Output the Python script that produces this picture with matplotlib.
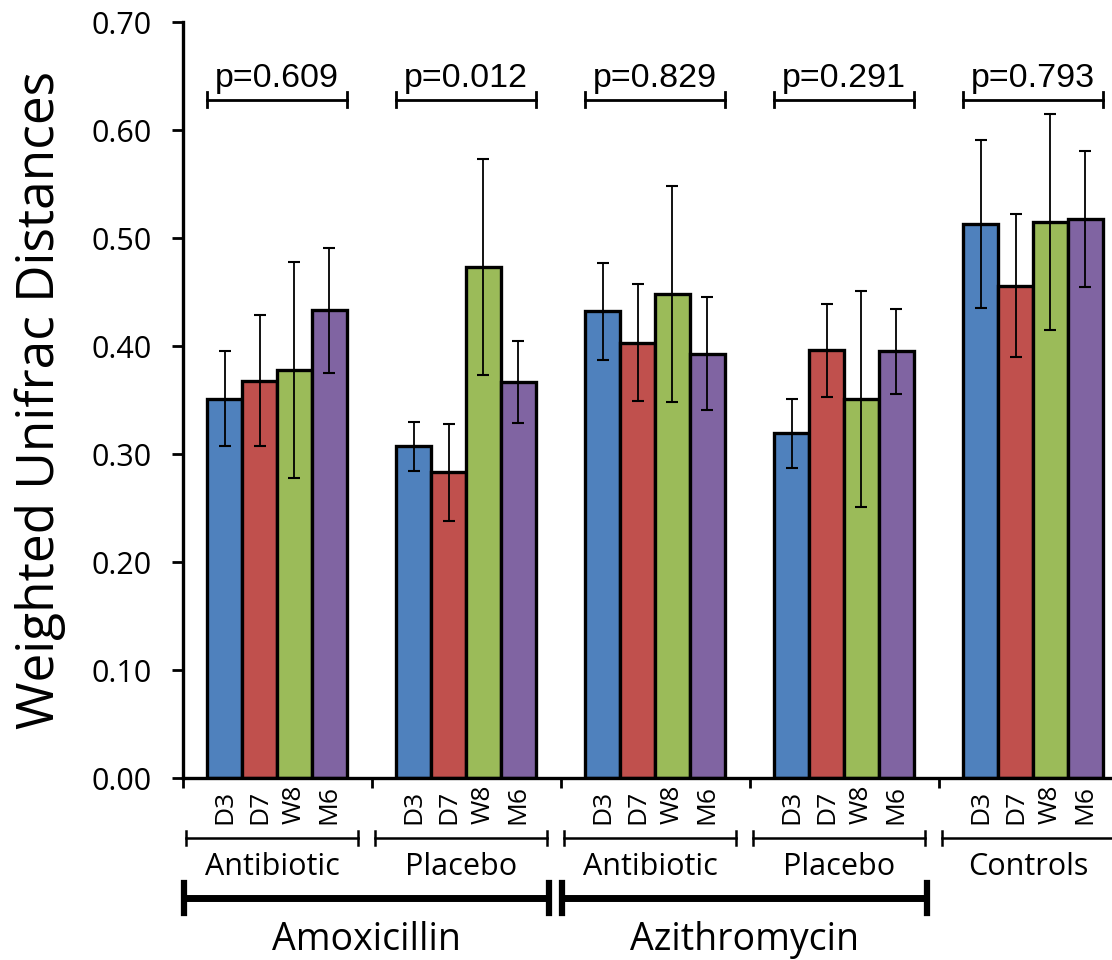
import numpy as np
import matplotlib
matplotlib.use('Agg')
import matplotlib.pyplot as plt
import matplotlib.transforms as mtransforms

# data
groups = ['Antibiotic', 'Placebo', 'Antibiotic', 'Placebo', 'Controls']
timepoints = ['D3', 'D7', 'W8', 'M6']
d3 = [0.351, 0.307, 0.432, 0.319, 0.513]
d7 = [0.368, 0.283, 0.403, 0.396, 0.456]
w8 = [0.378, 0.473, 0.448, 0.351, 0.515]
m6 = [0.433, 0.367, 0.393, 0.395, 0.518]
d3_err = [0.044, 0.023, 0.045, 0.032, 0.078]
d7_err = [0.061, 0.045, 0.054, 0.043, 0.066]
w8_err = [0.100, 0.100, 0.100, 0.100, 0.100]
m6_err = [0.058, 0.038, 0.052, 0.039, 0.063]
pvals = ['0.609', '0.012', '0.829', '0.291', '0.793']
drugs = ['Amoxicillin', 'Azithromycin']
drug_groups = [(0, 1), (2, 3)]

means = [d3, d7, w8, m6]
errs = [d3_err, d7_err, w8_err, m6_err]
colors = ['#4F81BD', '#C0504D', '#9BBB59', '#8064A2']

LABEL_FONT = ['Open Sans', 'DejaVu Sans']
P_FONT = ['Liberation Sans', 'DejaVu Sans']

fig = plt.figure(figsize=(11.12, 9.6), dpi=100)
ax = fig.add_axes([182.5 / 1112, 182 / 960, 945 / 1112, 756 / 960])
tr = mtransforms.blended_transform_factory(ax.transData, ax.transAxes)

x = np.arange(len(groups))
w = 0.184
for i in range(4):
    pos = x + (i - 1.5) * w
    ax.bar(pos, means[i], w, color=colors[i], edgecolor='black', linewidth=2.4, zorder=2)
    ax.errorbar(pos, means[i], yerr=errs[i], fmt='none', ecolor='black',
                elinewidth=1.3, capsize=4.5, capthick=1.5, zorder=3)
    for xp in pos:
        ax.text(xp, -0.061, timepoints[i], rotation=90, ha='center', va='bottom',
                fontsize=19, family=LABEL_FONT, transform=tr)

ax.set_xlim(-0.5, 4.5)
ax.set_ylim(0, 0.70)
ax.set_yticks(np.arange(0, 0.71, 0.1))
ax.set_yticklabels(['%.2f' % v for v in np.arange(0, 0.71, 0.1)], fontsize=22, family=LABEL_FONT)
ax.tick_params(axis='y', length=8, width=2, pad=14)
ax.set_xticks([])
ax.set_xticks(np.arange(-0.5, 5.0, 1.0), minor=True)
ax.tick_params(axis='x', which='minor', length=7, width=2)
for s in ['top', 'right']:
    ax.spines[s].set_visible(False)
for s in ['left', 'bottom']:
    ax.spines[s].set_linewidth(2.4)

fig.text(40 / 1112, 560 / 960, 'Weighted Unifrac Distances', rotation=90,
         ha='center', va='center', fontsize=37, family=LABEL_FONT)

# p-value brackets
by = 0.628
for g in range(len(groups)):
    x0, x1 = g - 2 * w, g + 2 * w
    ax.plot([x0, x1], [by, by], color='black', lw=2, zorder=4)
    ax.plot([x0, x0], [by - 0.007, by + 0.007], color='black', lw=2)
    ax.plot([x1, x1], [by - 0.007, by + 0.007], color='black', lw=2)
    ax.text(g, 0.640, 'p=' + pvals[g], ha='center', va='baseline', fontsize=24.5, family=P_FONT)

# brackets below the axis
sy = -0.0794
for g in range(len(groups)):
    x0, x1 = g - 0.48, g + 0.43
    ax.plot([x0, x1], [sy, sy], color='black', lw=1.8, transform=tr, clip_on=False)
    ax.plot([x0, x0], [sy - 0.009, sy + 0.009], color='black', lw=1.8, transform=tr, clip_on=False)
    ax.plot([x1, x1], [sy - 0.009, sy + 0.009], color='black', lw=1.8, transform=tr, clip_on=False)
    ax.text((x0 + x1) / 2, -0.118, groups[g], ha='center', va='center', fontsize=22,
            family=LABEL_FONT, transform=tr)

dy = -0.159
for name, (g0, g1) in zip(drugs, drug_groups):
    x0, x1 = g0 - 0.49, g1 + 0.44
    ax.plot([x0, x1], [dy, dy], color='black', lw=5, transform=tr, clip_on=False,
            solid_capstyle='butt')
    ax.plot([x0, x0], [dy - 0.02, dy + 0.02], color='black', lw=4.5, transform=tr, clip_on=False)
    ax.plot([x1, x1], [dy - 0.02, dy + 0.02], color='black', lw=4.5, transform=tr, clip_on=False)
    ax.text((x0 + x1) / 2, -0.214, name, ha='center', va='center', fontsize=27,
            family=LABEL_FONT, transform=tr)

fig.savefig('out.png', dpi=100)
